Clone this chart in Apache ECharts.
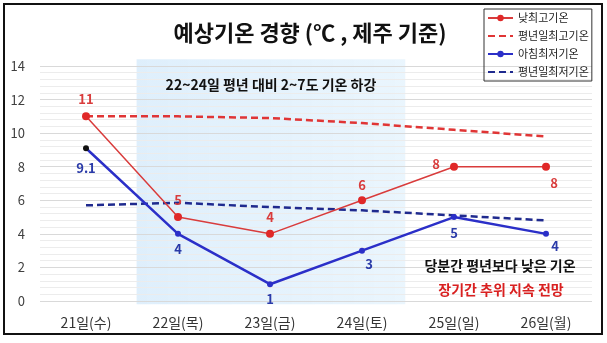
<!DOCTYPE html>
<html><head><meta charset="utf-8">
<script src="https://cdn.jsdelivr.net/npm/echarts@6/dist/echarts.min.js"></script>
<style>html,body{margin:0;padding:0;background:#fff}#c{width:607px;height:343px}</style>
</head><body><div id="c"></div>
<script>
const categories = ['21일(수)','22일(목)','23일(금)','24일(토)','25일(일)','26일(월)'];
const dayHigh = [11, 5, 4, 6, 8, 8];
const normalHigh = [11.0, 11.0, 10.9, 10.6, 10.2, 9.8];
const morningLow = [9.1, 4, 1, 3, 5, 4];
const normalLow = [5.7, 5.85, 5.6, 5.4, 5.1, 4.8];
const seriesNames = ['낮최고기온','평년일최고기온','아침최저기온','평년일최저기온'];
const titleText = '예상기온 경향 (℃ , 제주 기준)';
const noteTop = '22~24일 평년 대비 2~7도 기온 하강';
const noteRight1 = '당분간 평년보다 낮은 기온';
const noteRight2 = '장기간 추위 지속 전망';

const FONT = '"Noto Sans CJK KR", "Noto Sans", sans-serif';
const RED = '#d93c3c', BLUE = '#2b2fc8', NAVY = '#1f2a8e';

const redLabel = [
  {position:'top', distance:7},
  {position:'top', distance:7},
  {position:'top', distance:6},
  {position:'top', distance:5},
  {position:'left', distance:10, offset:[0,-3]},
  {position:'bottom', distance:6, offset:[8,0]}
];
const blueLabel = [
  {position:'bottom', distance:10},
  {position:'bottom', distance:6},
  {position:'bottom', distance:5},
  {position:'bottom', distance:4, offset:[7,0]},
  {position:'bottom', distance:6},
  {position:'bottom', distance:3, offset:[9,0]}
];

const chart = echarts.init(document.getElementById('c'), null, {renderer:'canvas'});
chart.setOption({
  animation:false,
  textStyle:{fontFamily:FONT},
  title:{text:titleText, left:305, top:17, textAlign:'center',
    textStyle:{fontFamily:FONT, fontSize:22, fontWeight:'bold', color:'#111'}},
  legend:{
    orient:'vertical', left:484, top:9,
    data:[
      {name:seriesNames[0]},
      {name:seriesNames[1], itemStyle:{opacity:0}},
      {name:seriesNames[2]},
      {name:seriesNames[3], itemStyle:{opacity:0}}
    ],
    borderColor:'#333', borderWidth:1, padding:[3,3,3,3],
    itemWidth:25, itemHeight:8, itemGap:6,
    textStyle:{fontFamily:FONT, fontSize:11, color:'#222', lineHeight:12}
  },
  grid:{left:40, right:15, top:66, bottom:42},
  xAxis:[{
    type:'category', data:categories, boundaryGap:true,
    axisLine:{show:false}, axisTick:{show:false},
    axisLabel:{fontFamily:FONT, fontSize:14, color:'#333', margin:15}
  },{
    type:'value', min:-0.5, max:5.5, show:false
  }],
  yAxis:{
    type:'value', min:0, max:14, interval:2,
    axisLine:{show:false}, axisTick:{show:false},
    axisLabel:{fontFamily:FONT, fontSize:13, color:'#404040', margin:15},
    splitLine:{lineStyle:{color:'#d9d9d9', width:1}},
    minorTick:{show:false, splitNumber:5},
    minorSplitLine:{show:true, lineStyle:{color:'#ececec', width:1}}
  },
  series:[
    {name:seriesNames[0], type:'line', z:4,
     data:dayHigh.map((v,i)=>({value:v, label:redLabel[i]})),
     symbol:'circle', symbolSize:8,
     lineStyle:{color:RED, width:1.5}, itemStyle:{color:'#e02828'},
     label:{show:true, fontFamily:FONT, fontSize:13, fontWeight:'bold', color:RED}},
    {name:seriesNames[1], type:'line', z:3, data:normalHigh, symbol:'none',
     lineStyle:{color:'#e03535', width:2.5, type:[7,4]}, itemStyle:{color:'#e03535'}},
    {name:seriesNames[2], type:'line', z:4,
     data:morningLow.map((v,i)=>({value:v, label:blueLabel[i],
        itemStyle: i===0 ? {color:'#111'} : undefined})),
     symbol:'circle', symbolSize:6,
     lineStyle:{color:BLUE, width:2.5}, itemStyle:{color:BLUE},
     label:{show:true, fontFamily:FONT, fontSize:13, fontWeight:'bold', color:'#2a3aa8'}},
    {name:seriesNames[3], type:'line', z:3, data:normalLow, symbol:'none',
     lineStyle:{color:NAVY, width:2.5, type:[7,4]}, itemStyle:{color:NAVY}}
  ]
});

const p1 = chart.convertToPixel({xAxisIndex:1, yAxisIndex:0}, [0.55, 14.4]);
const p2 = chart.convertToPixel({xAxisIndex:1, yAxisIndex:0}, [3.47, -0.2]);
chart.setOption({
  graphic:[
    {type:'rect', z:-1, silent:true,
     shape:{x:p1[0], y:p1[1], width:p2[0]-p1[0], height:p2[1]-p1[1]},
     style:{fill:new echarts.graphic.LinearGradient(0,0,1,0,[
       {offset:0, color:'rgba(205,230,250,0.65)'},
       {offset:1, color:'rgba(220,239,252,0.6)'}])}},
    {type:'rect', z:10, silent:true,
     shape:{x:4, y:4, width:598, height:330},
     style:{fill:'none', stroke:'#111', lineWidth:2}},
    {type:'text', z:10,
     style:{text:noteTop, x:271, y:85, align:'center', verticalAlign:'middle',
       font:'bold 14px ' + FONT, fill:'#111'}},
    {type:'text', z:10,
     style:{text:noteRight1, x:500, y:266, align:'center', verticalAlign:'middle',
       font:'bold 14px ' + FONT, fill:'#111'}},
    {type:'text', z:10,
     style:{text:noteRight2, x:501, y:290, align:'center', verticalAlign:'middle',
       font:'bold 14px ' + FONT, fill:'#d92020'}}
  ]
});
</script></body></html>
